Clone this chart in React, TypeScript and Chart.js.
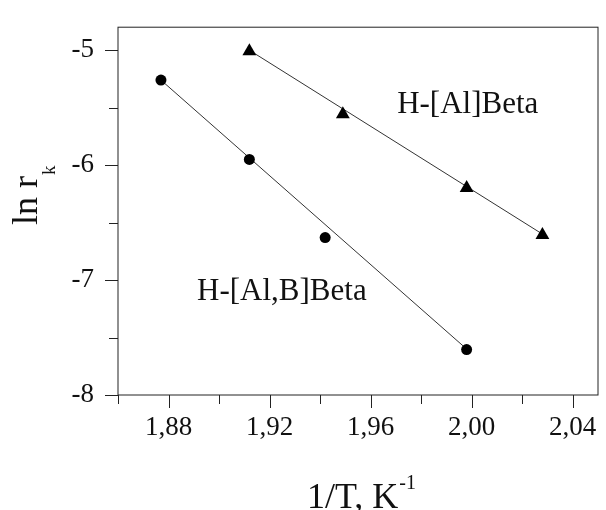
import React, { useEffect, useRef } from 'react';
import { Chart, registerables } from 'chart.js';

Chart.register(...registerables);

// H-[Al,B]Beta (circles)
const alBX = [1.877, 1.912, 1.942, 1.998];
const alBY = [-5.26, -5.95, -6.63, -7.605];
// H-[Al]Beta (triangles)
const alX = [1.912, 1.949, 1.998, 2.028];
const alY = [-5.01, -5.558, -6.2, -6.607];
// fitted lines (end points)
const alBFitX = [1.877, 1.998];
const alBFitY = [-5.26, -7.6];
const alFitX = [1.912, 2.028];
const alFitY = [-5.0, -6.6];

const xMajorTicks = [1.88, 1.92, 1.96, 2.0, 2.04];
const xMinorTicks = [1.86, 1.9, 1.94, 1.98, 2.02];
const yMajorTicks = [-8, -7, -6, -5];
const yMinorTicks = [-7.5, -6.5, -5.5];

const annotationTexts = ['H-[Al]Beta', 'H-[Al,B]Beta'];
const annotationX = [1.9705, 1.8913];
const annotationY = [-5.544, -7.174];

const FONT = "'Liberation Serif', 'Times New Roman', serif";
const INK = '#111';

const decorPlugin = {
  id: 'decor',
  afterDraw(chart: any) {
    const { ctx, chartArea } = chart;
    const { left, top, right, bottom } = chartArea;
    const xs = chart.scales.x;
    const ys = chart.scales.y;
    ctx.save();
    // frame
    ctx.strokeStyle = '#222';
    ctx.lineWidth = 1;
    ctx.strokeRect(left, top, right - left, bottom - top);
    // ticks
    ctx.beginPath();
    const tick = (v: number, len: number, axis: 'x' | 'y') => {
      if (axis === 'x') {
        const p = Math.round(xs.getPixelForValue(v)) + 0.5;
        ctx.moveTo(p, bottom);
        ctx.lineTo(p, bottom + len);
      } else {
        const p = Math.round(ys.getPixelForValue(v)) + 0.5;
        ctx.moveTo(left, p);
        ctx.lineTo(left - len, p);
      }
    };
    xMajorTicks.forEach((v) => tick(v, 13, 'x'));
    xMinorTicks.forEach((v) => tick(v, 9, 'x'));
    yMajorTicks.forEach((v) => tick(v, 13, 'y'));
    yMinorTicks.forEach((v) => tick(v, 9, 'y'));
    ctx.stroke();

    // annotations
    ctx.fillStyle = INK;
    ctx.font = `31px ${FONT}`;
    ctx.textAlign = 'left';
    ctx.textBaseline = 'alphabetic';
    annotationTexts.forEach((t, i) => {
      ctx.fillText(t, xs.getPixelForValue(annotationX[i]), ys.getPixelForValue(annotationY[i]));
    });

    // x title
    ctx.font = `36px ${FONT}`;
    const main = '1/T, K';
    ctx.fillText(main, 307, 508);
    const w = ctx.measureText(main).width;
    ctx.font = `20px ${FONT}`;
    ctx.fillText('-1', 307 + w + 1, 489);

    // y title
    ctx.save();
    ctx.translate(37, 225);
    ctx.rotate(-Math.PI / 2);
    ctx.font = `36px ${FONT}`;
    const ym = 'ln r';
    ctx.fillText(ym, 0, 0);
    const yw = ctx.measureText(ym).width;
    ctx.font = `19px ${FONT}`;
    ctx.fillText('k', yw + 1, 18);
    ctx.restore();

    ctx.restore();
  },
};

export default function App() {
  const ref = useRef<HTMLCanvasElement | null>(null);
  useEffect(() => {
    document.body.style.margin = '0';
    if (!ref.current) return;
    const pts = (xs: number[], ys: number[]) => xs.map((x, i) => ({ x, y: ys[i] }));
    const chart = new Chart(ref.current, {
      type: 'scatter',
      data: {
        datasets: [
          {
            label: 'H-[Al,B]Beta',
            data: pts(alBX, alBY),
            pointStyle: 'circle',
            pointRadius: 5.5,
            backgroundColor: '#000',
            borderColor: '#000',
            borderWidth: 0,
            showLine: false,
          },
          {
            label: 'H-[Al]Beta',
            data: pts(alX, alY),
            pointStyle: 'triangle',
            pointRadius: 8,
            backgroundColor: '#000',
            borderColor: '#000',
            borderWidth: 0,
            showLine: false,
          },
          {
            label: 'fit Al,B',
            data: pts(alBFitX, alBFitY),
            showLine: true,
            pointRadius: 0,
            borderColor: '#333',
            borderWidth: 1,
          },
          {
            label: 'fit Al',
            data: pts(alFitX, alFitY),
            showLine: true,
            pointRadius: 0,
            borderColor: '#333',
            borderWidth: 1,
          },
        ],
      },
      options: {
        animation: false,
        responsive: false,
        layout: { padding: { top: 15, right: 2, left: 0, bottom: 0 } },
        plugins: { legend: { display: false }, tooltip: { enabled: false } },
        scales: {
          x: {
            type: 'linear',
            min: 1.86,
            max: 2.05,
            border: { display: false },
            grid: { display: false, drawTicks: true, tickLength: 13 },
            afterBuildTicks: (s: any) => {
              s.ticks = xMajorTicks.map((v) => ({ value: v }));
            },
            afterFit: (s: any) => {
              s.height = 115;
            },
            ticks: {
              autoSkip: false,
              maxRotation: 0,
              padding: 4,
              color: INK,
              font: { family: FONT, size: 27 },
              callback: (v: any) => Number(v).toFixed(2).replace('.', ','),
            },
          },
          y: {
            type: 'linear',
            min: -8,
            max: -4.8,
            border: { display: false },
            grid: { display: false, drawTicks: true, tickLength: 13 },
            afterBuildTicks: (s: any) => {
              s.ticks = yMajorTicks.map((v) => ({ value: v }));
            },
            afterFit: (s: any) => {
              s.width = 118;
            },
            ticks: {
              autoSkip: false,
              padding: 11,
              color: INK,
              font: { family: FONT, size: 27 },
              callback: (v: any) => String(v),
            },
          },
        },
      },
      plugins: [decorPlugin],
    });
    return () => chart.destroy();
  }, []);
  return (
    <div style={{ position: 'absolute', left: 0, top: 0, width: 606, height: 510 }}>
      <canvas ref={ref} width={606} height={510} style={{ width: 606, height: 510 }} />
    </div>
  );
}
